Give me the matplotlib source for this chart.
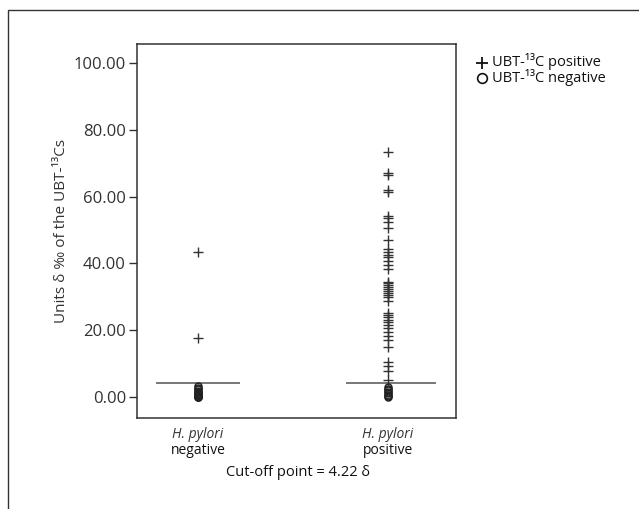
import matplotlib.pyplot as plt
from matplotlib.patches import Rectangle

# values in units delta per mil
categories = ["negative", "positive"]
cutoff = 4.22

neg_plus = [43.5, 17.7]
neg_circle = [3.3, 2.8, 2.3, 1.9, 1.6, 1.3, 1.0, 0.8, 0.6, 0.4, 0.2, 0.1, 0.0, -0.1]

pos_plus = [73.4, 67.2, 66.5, 62.0, 61.3, 54.2, 53.5, 52.5, 50.5, 47.0,
            44.2, 43.4, 42.6, 41.8, 40.8, 39.5, 38.2, 34.5, 34.0, 33.5,
            33.0, 32.4, 31.8, 31.2, 30.5, 30.0, 28.8, 25.2, 24.6, 23.8,
            23.1, 22.4, 21.6, 20.6, 19.6, 18.3, 17.1, 14.9, 10.6, 9.3,
            7.9, 5.1]
pos_circle = [3.0, 2.5, 2.0, 1.5, 1.1, 0.7, 0.3, 0.0]

yticks = [0, 20, 40, 60, 80, 100]

plt.rcParams["font.family"] = ["Open Sans", "DejaVu Sans"]

fig = plt.figure(figsize=(6.39, 5.09), dpi=100)
ax = fig.add_axes([137 / 639, 1 - 418 / 509, (456 - 137) / 639, (418 - 44) / 509])

# outer frame, cut off at right and bottom like the source image
fig.patches.append(Rectangle((8 / 639, -0.2), 1.2, 1.2 - 10 / 509,
                             transform=fig.transFigure, fill=False,
                             edgecolor="#333333", linewidth=1.0))

text_color = "#333333"
ax.plot([0] * len(neg_plus), neg_plus, linestyle="none", marker="+",
        markersize=6.5, markeredgewidth=1.0, color="#333333")
ax.plot([0] * len(neg_circle), neg_circle, linestyle="none", marker="o",
        markersize=5, markeredgewidth=1.1, markerfacecolor="none", color="#222222")
ax.plot([1] * len(pos_plus), pos_plus, linestyle="none", marker="+",
        markersize=6.5, markeredgewidth=1.0, color="#333333")
ax.plot([1] * len(pos_circle), pos_circle, linestyle="none", marker="o",
        markersize=5, markeredgewidth=1.1, markerfacecolor="none", color="#222222")

for i in range(len(categories)):
    ax.plot([i - 0.218, i + 0.218 + 0.03 * i], [cutoff, cutoff],
            color="#777777", linewidth=1.4, zorder=1)

ax.set_xlim(-0.321, 1.358)
ax.set_ylim(-6.3, 105.7)
ax.set_xticks([])
ax.set_yticks(yticks)
ax.set_yticklabels([f"{v:.2f}" for v in yticks], fontsize=12, color=text_color)
ax.tick_params(axis="y", direction="out", length=6, width=1, color="#333333", pad=2)
for side in ax.spines.values():
    side.set_color("#333333")
    side.set_linewidth(1.1)

ax.set_ylabel("Units δ ‰ of the UBT-¹³Cs", fontsize=11, color=text_color, labelpad=3)

for i, cat in enumerate(categories):
    xf = (198 + 190 * i) / 639
    fig.text(xf, 1 - 435 / 509, "H. pylori", style="italic", ha="center",
             va="center", fontsize=10, color=text_color)
    fig.text(xf, 1 - 451 / 509, cat, ha="center", va="center",
             fontsize=10, color="#111111")

fig.text(298 / 639, 1 - 473 / 509, f"Cut-off point = {cutoff} δ", ha="center",
         va="center", fontsize=10.5, color="#111111")

# legend
fig.text(492 / 639, 1 - 62 / 509, "UBT-¹³C positive", ha="left", va="center",
         fontsize=10.5, color="#111111")
fig.text(492 / 639, 1 - 78 / 509, "UBT-¹³C negative", ha="left", va="center",
         fontsize=10.5, color="#111111")
fig.lines.append(plt.Line2D([482 / 639], [1 - 63 / 509], marker="+", markersize=9,
                            markeredgewidth=1.3, color="#111111",
                            transform=fig.transFigure))
fig.lines.append(plt.Line2D([482 / 639], [1 - 78 / 509], marker="o", markersize=7,
                            markeredgewidth=1.2, markerfacecolor="none",
                            color="#111111", transform=fig.transFigure))

fig.savefig("out.png", dpi=100)
